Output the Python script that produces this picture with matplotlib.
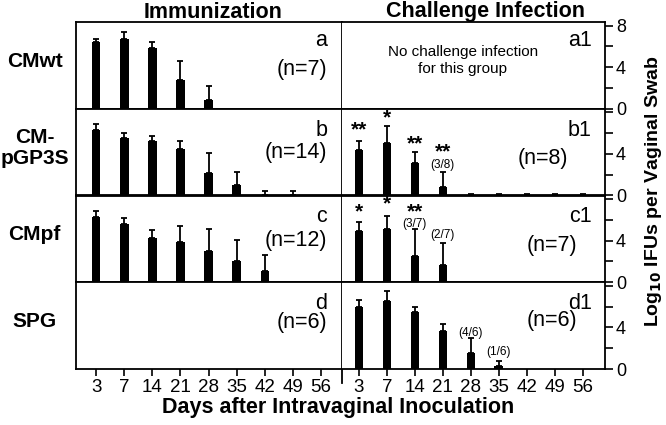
import matplotlib
matplotlib.use("Agg")
import matplotlib.pyplot as plt
import numpy as np

plt.rcParams['font.family'] = ['Liberation Sans', 'DejaVu Sans']

days = ["3", "7", "14", "21", "28", "35", "42", "49", "56"]
groups = ["CMwt", "CM-\npGP3S", "CMpf", "SPG"]

# Immunization panels (means, upward error)
imm_cmwt = [6.45, 6.7, 5.8, 2.8, 0.85, 0, 0, 0, 0]
imm_cmwt_err = [0.3, 0.7, 0.65, 1.8, 1.3, 0, 0, 0, 0]
imm_pgp3s = [6.3, 5.5, 5.25, 4.5, 2.15, 1.0, 0, 0, 0]
imm_pgp3s_err = [0.55, 0.5, 0.45, 0.75, 1.9, 1.3, 0.4, 0.4, 0]
imm_cmpf = [6.25, 5.6, 4.3, 3.9, 3.0, 2.0, 1.1, 0, 0]
imm_cmpf_err = [0.65, 0.6, 0.7, 1.55, 2.1, 2.1, 1.55, 0, 0]
imm_spg = [0, 0, 0, 0, 0, 0, 0, 0, 0]
imm_spg_err = [0, 0, 0, 0, 0, 0, 0, 0, 0]

# Challenge panels
ch_pgp3s = [4.4, 5.1, 3.1, 0.85, 0, 0, 0, 0, 0]
ch_pgp3s_err = [0.8, 1.6, 1.05, 1.4, 0.1, 0.1, 0.1, 0.1, 0.1]
ch_cmpf = [4.9, 5.15, 2.5, 1.65, 0, 0, 0, 0, 0]
ch_cmpf_err = [0.9, 1.25, 2.6, 2.1, 0, 0, 0, 0, 0]
ch_spg = [6.0, 6.55, 5.5, 3.7, 1.55, 0.25, 0, 0, 0]
ch_spg_err = [0.65, 0.95, 0.45, 0.65, 1.45, 0.5, 0, 0, 0]

imm_labels = [("a", "(n=7)"), ("b", "(n=14)"), ("c", "(n=12)"), ("d", "(n=6)")]
ch_labels = ["a1", "b1", "c1", "d1"]
ch_n = [None, "(n=8)", "(n=7)", "(n=6)"]

# annotations: (panel row, day index, y, text)
annots = [
    (1, 0, 6.3, "**"), (1, 1, 7.45, "*"), (1, 2, 5.0, "**"),
    (1, 3, 4.15, "**"), (1, 3, 2.95, "(3/8)"),
    (2, 0, 6.8, "*"), (2, 1, 7.5, "*"), (2, 2, 6.75, "**"),
    (2, 2, 5.6, "(3/7)"), (2, 3, 4.5, "(2/7)"),
    (3, 4, 3.5, "(4/6)"), (3, 5, 1.6, "(1/6)"),
]

imm = [(imm_cmwt, imm_cmwt_err), (imm_pgp3s, imm_pgp3s_err),
       (imm_cmpf, imm_cmpf_err), (imm_spg, imm_spg_err)]
ch = [None, (ch_pgp3s, ch_pgp3s_err), (ch_cmpf, ch_cmpf_err), (ch_spg, ch_spg_err)]

W, H = 666, 425
fig = plt.figure(figsize=(W / 100, H / 100), dpi=100)

xl0, xm, xr = 76 / W, 342 / W, 605 / W
ytop, ybot = 1 - 22 / H, 1 - 369 / H
rh = (ytop - ybot) / 4
YMAX = 8.35
LW = 1.3
x = np.arange(len(days))

def style(ax):
    for s in ax.spines.values():
        s.set_linewidth(LW)
        s.set_color("black")
    ax.set_ylim(0, YMAX)

def draw_bars(ax, means, errs):
    means = np.array(means, float)
    errs = np.array(errs, float)
    ax.bar(x, means, width=0.3, color="black", zorder=2)
    m = errs > 0
    ax.errorbar(x[m], means[m], yerr=[np.zeros(m.sum()), errs[m]], fmt="none",
                ecolor="black", elinewidth=1.3, capsize=2.5, capthick=1.3, zorder=3)

for r in range(4):
    b = ytop - (r + 1) * rh
    axl = fig.add_axes([xl0, b, xm - xl0, rh])
    axr = fig.add_axes([xm, b, xr - xm, rh])
    for ax in (axl, axr):
        style(ax)
    axl.set_xlim(-0.72, 8.75)
    axr.set_xlim(-0.6, 8.8)
    draw_bars(axl, *imm[r])
    if ch[r] is not None:
        draw_bars(axr, *ch[r])
    axl.set_yticks([])
    axr.yaxis.tick_right()
    axr.set_yticks([0, 4, 8])
    axr.set_yticks([2, 6], minor=True)
    axr.set_yticklabels(["0", "4", "8" if r == 0 else ""])
    axr.tick_params(axis="y", which="both", direction="out", length=6, width=1.2,
                    labelsize=13, pad=2)
    axr.spines["left"].set_visible(False)
    if r == 3:
        for ax in (axl, axr):
            ax.set_xticks(x)
            ax.set_xticklabels(days)
            ax.tick_params(axis="x", direction="out", length=5, width=1.2,
                           labelsize=13.5, pad=2)
        axl.plot([1, 1], [0, -0.16], transform=axl.transAxes, color="black",
                 lw=LW, clip_on=False)
    else:
        axl.set_xticks([])
        axr.set_xticks([])
    # labels
    lt, nt = imm_labels[r]
    ly = [0.79, 0.755, 0.76, 0.76][r]
    ny = [0.45, 0.49, 0.48, 0.54][r]
    axl.text(0.945, ly, lt, transform=axl.transAxes, ha="right", va="center", fontsize=15.5)
    axl.text(0.945, ny, nt, transform=axl.transAxes, ha="right", va="center", fontsize=15.5)
    axr.text(0.95, ly, ch_labels[r], transform=axr.transAxes, ha="right", va="center", fontsize=15.5)
    if ch_n[r]:
        cy = [0, 0.43, 0.425, 0.56][r]
        cx = [0, 0.765, 0.80, 0.80][r]
        axr.text(cx, cy, ch_n[r], transform=axr.transAxes, ha="center", va="center", fontsize=15.5)
    if r == 0:
        axr.text(0.46, 0.56, "No challenge infection\nfor this group", transform=axr.transAxes,
                 ha="center", va="center", fontsize=11, linespacing=1.3)
    for (pr, di, yy, t) in annots:
        if pr == r:
            star = "*" in t
            axr.text(x[di], yy, t, ha="center", va="center", fontsize=15 if star else 8.5,
                     fontweight="bold" if star else "normal")
    # row label
    fig.text(0.052, b + rh * 0.55, groups[r], ha="center", va="center", fontsize=15,
             fontweight="bold", linespacing=1.15)

fig.text(213 / W, 1 - 12 / H, "Immunization", ha="center", va="center", fontsize=15.5, fontweight="bold")
fig.text(485 / W, 1 - 12 / H, "Challenge Infection", ha="center", va="center", fontsize=15.5, fontweight="bold")
fig.text(338 / W, 1 - 408 / H, "Days after Intravaginal Inoculation", ha="center", va="center",
         fontsize=15.5, fontweight="bold")
fig.text(653 / W, 1 - 191 / H, r"Log$_{\mathbf{10}}$ IFUs per Vaginal Swab", ha="center", va="center",
         rotation=90, fontsize=14, fontweight="bold")

fig.savefig("out.png", dpi=100)
